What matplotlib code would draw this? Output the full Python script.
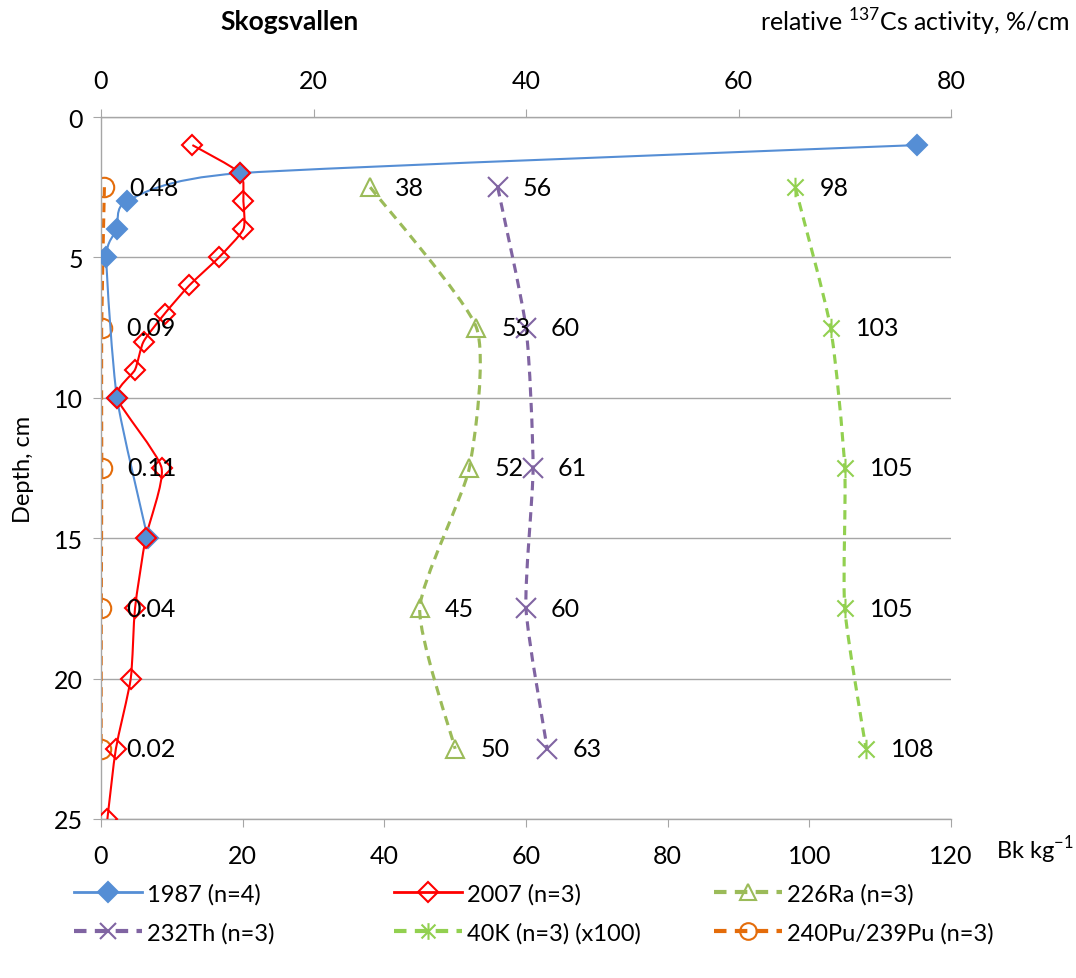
import numpy as np
import matplotlib.pyplot as plt
from matplotlib.path import Path
from matplotlib.patches import PathPatch
from matplotlib.lines import Line2D

plt.rcParams['font.family'] = ['Lato', 'DejaVu Sans']
plt.rcParams['mathtext.fontset'] = 'custom'
plt.rcParams['mathtext.rm'] = 'Lato'

# relative 137Cs activity, %/cm (top axis)
d_1987 = [1, 2, 3, 4, 5, 10, 15]
cs_1987 = [76.8, 13.1, 2.4, 1.5, 0.5, 1.5, 4.4]
d_2007 = [1, 2, 3, 4, 5, 6, 7, 8, 9, 10, 12.5, 15, 17.5, 20, 22.5, 25]
cs_2007 = [8.6, 13.1, 13.4, 13.4, 11.1, 8.3, 6.0, 4.0, 3.2, 1.5, 5.7, 4.2, 3.2, 2.8, 1.4, 0.6]

# Bk/kg (bottom axis)
d_nat = [2.5, 7.5, 12.5, 17.5, 22.5]
ra226 = [38, 53, 52, 45, 50]
th232 = [56, 60, 61, 60, 63]
k40 = [98, 103, 105, 105, 108]   # x100
pu_ratio = [0.48, 0.09, 0.11, 0.04, 0.02]

c_blue = '#558ED5'
c_red = '#FF0000'
c_ra = '#9BBB59'
c_th = '#8064A2'
c_k = '#92D050'
c_pu = '#E46C0A'
grey = '#A6A6A6'
fs = 18

# excel style "star" marker: X with a vertical bar
star = Path([(-1, -1), (1, 1), (-1, 1), (1, -1), (0, -1.2), (0, 1.2)],
            [Path.MOVETO, Path.LINETO, Path.MOVETO, Path.LINETO, Path.MOVETO, Path.LINETO])


def smooth_path(x, y, t=0.1):
    # bezier segments through the points, like excel "smoothed line"
    pts = np.column_stack([x, y]).astype(float)
    n = len(pts)
    verts = [pts[0]]
    codes = [Path.MOVETO]
    for i in range(n - 1):
        p0 = pts[max(i - 1, 0)]
        p1 = pts[i]
        p2 = pts[i + 1]
        p3 = pts[min(i + 2, n - 1)]
        verts += [p1 + (p2 - p0) * t, p2 - (p3 - p1) * t, p2]
        codes += [Path.CURVE4] * 3
    return Path(verts, codes)


def series(a, x, y, color, ls, lw, marker, ms, mfc, mew=1.5):
    a.add_patch(PathPatch(smooth_path(x, y), fill=False, edgecolor=color,
                          lw=lw, ls=ls, capstyle='butt'))
    a.plot(x, y, ls='none', marker=marker, ms=ms, mfc=mfc, mec=color, mew=mew)


fig = plt.figure(figsize=(10.76, 9.79), dpi=100)
ax = fig.add_axes([101 / 1076, 1 - 820 / 979, 850 / 1076, 702 / 979])
ax2 = ax.twiny()

dash = (0, (3, 2))
series(ax, ra226, d_nat, c_ra, dash, 2.25, '^', 13, 'none')
series(ax, th232, d_nat, c_th, dash, 2.25, 'x', 14, 'none')
series(ax, k40, d_nat, c_k, dash, 2.25, star, 14, 'none')
series(ax, pu_ratio, d_nat, c_pu, dash, 2.25, 'o', 14, 'none')

series(ax2, cs_1987, d_1987, c_blue, '-', 1.5, 'D', 10, c_blue)
series(ax2, cs_2007, d_2007, c_red, '-', 1.5, 'D', 10, 'none')

# data labels
for vals, fmt in [(ra226, '{:d}'), (th232, '{:d}'), (k40, '{:d}'), (pu_ratio, '{:.2f}')]:
    for v, d in zip(vals, d_nat):
        ax2.annotate(fmt.format(v), xy=(v, d), xycoords=ax.transData,
                     xytext=(18, 0), textcoords='offset points',
                     ha='left', va='center', fontsize=fs, color='black')

ax.set_xlim(0, 120)
ax2.set_xlim(0, 80)
ax.set_ylim(25, 0)
ax.set_xticks(np.arange(0, 121, 20))
ax2.set_xticks(np.arange(0, 81, 20))
ax.set_yticks(np.arange(0, 26, 5))

for s in ['top', 'right']:
    ax.spines[s].set_visible(False)
for s in ['bottom', 'left', 'right']:
    ax2.spines[s].set_visible(False)
for sp in [ax.spines['left'], ax.spines['bottom'], ax2.spines['top']]:
    sp.set_color(grey)
    sp.set_linewidth(1)

ax.yaxis.grid(True, color=grey, lw=1)
ax.set_axisbelow(True)
ax.tick_params(axis='y', direction='out', length=6, color=grey, labelsize=fs, pad=7)
ax.tick_params(axis='x', direction='out', length=6, color=grey, labelsize=fs, pad=12)
ax2.tick_params(axis='x', direction='out', length=6, color=grey, labelsize=fs, pad=12)

ax.set_ylabel('Depth, cm', fontsize=fs - 1, labelpad=14)

fig.text(290 / 1076, 1 - 22 / 979, 'Skogsvallen', fontsize=fs + 1, fontweight='bold',
         ha='center', va='center')
fig.text(1070 / 1076, 1 - 22 / 979, r'relative $^{137}$Cs activity, %/cm', fontsize=fs,
         ha='right', va='center')
fig.text(996 / 1076, 1 - 850 / 979, r'Bk kg$^{-1}$', fontsize=fs - 1, ha='left', va='center')

# legend, three columns placed like the excel legend
def h(color, ls, lw, marker, ms, mfc):
    return Line2D([], [], color=color, ls=ls, lw=lw, marker=marker, ms=ms,
                  mfc=mfc, mec=color, mew=1.5)

cols = [
    ([h(c_blue, '-', 2, 'D', 10, c_blue), h(c_th, dash, 3, 'x', 12, 'none')],
     ['1987 (n=4)', '232Th (n=3)'], 74),
    ([h(c_red, '-', 2, 'D', 10, 'none'), h(c_k, dash, 3, star, 12, 'none')],
     ['2007 (n=3)', '40K (n=3) (x100)'], 394),
    ([h(c_ra, dash, 3, '^', 11, 'none'), h(c_pu, dash, 3, 'o', 12, 'none')],
     ['226Ra (n=3)', '240Pu/239Pu (n=3)'], 714),
]
for handles, labels, x0 in cols:
    fig.legend(handles, labels, loc='upper left', bbox_to_anchor=(x0 / 1076, 1 - 884 / 979),
               frameon=False, fontsize=fs - 1, handlelength=2.9, handletextpad=0.2,
               labelspacing=0.75, borderaxespad=0, borderpad=0)

fig.savefig('out.png', dpi=100)
